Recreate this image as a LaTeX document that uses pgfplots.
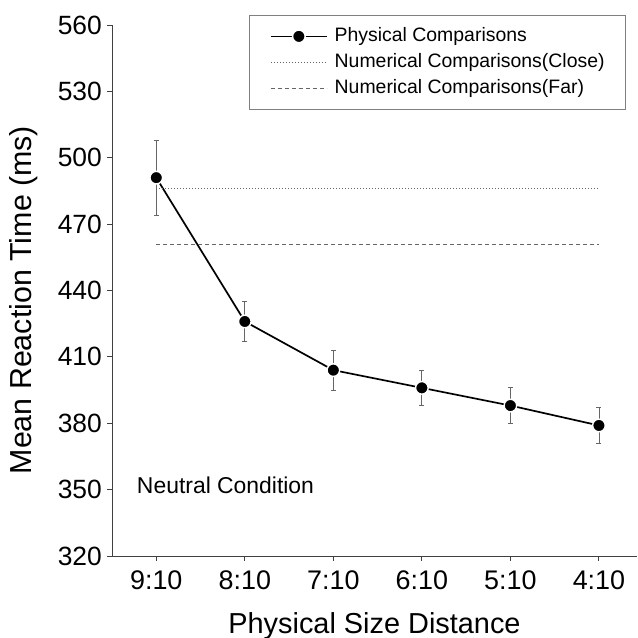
\documentclass[border=0pt]{standalone}
\usepackage{fontspec}
\setmainfont{Liberation Sans}
\usepackage{pgfplots}
\pgfplotsset{compat=1.18}
\begin{document}
\begin{tikzpicture}
\begin{axis}[
  scale only axis,
  width=525bp, height=531bp,
  xmin=-0.5, xmax=5.43,
  ymin=320, ymax=560,
  axis x line*=bottom, axis y line*=left,
  axis line style={black!75, line width=0.9bp},
  xtick={0,1,2,3,4,5},
  xticklabels={9:10,8:10,7:10,6:10,5:10,4:10},
  ytick={320,350,...,560},
  tick align=outside,
  major tick length=4.5bp,
  tick style={black!75, line width=0.9bp},
  /pgf/number format/assume math mode=true,
  yticklabel style={font=\fontsize{26.5}{30}\selectfont, inner sep=0pt, xshift=-5.5bp},
  xticklabel style={font=\fontsize{27}{32}\selectfont, inner sep=0pt, yshift=-10bp},
  xlabel={Physical Size Distance},
  ylabel={Mean Reaction Time (ms)},
  xlabel style={font=\fontsize{29}{34}\selectfont, at={(axis description cs:0.5,0)}, anchor=base, yshift=-77bp},
  ylabel style={font=\fontsize{30.5}{34}\selectfont, at={(axis description cs:-0.1524,0.482)}, anchor=base},
  clip=false,
  legend cell align=left,
  legend style={at={(axis description cs:1,1)}, anchor=north east,
    xshift=-11bp, yshift=10bp, draw=gray, line width=0.8bp,
    font=\fontsize{19.5}{23}\selectfont,
    inner xsep=21bp, inner ysep=12bp,
    nodes={inner sep=0pt, text height=14bp, text depth=4bp},
    row sep=8bp, column sep=7bp},
  legend image code/.code={%
    \draw[mark repeat=2,mark phase=2,#1] plot coordinates {(0bp,0bp) (28bp,0bp) (56bp,0bp)};},
]
\addplot[black, line width=1.7bp, mark=*,
  mark options={fill=black, draw=white, line width=1.4bp, mark size=6.3bp},
  error bars/.cd, y dir=both, y explicit,
  error bar style={black!60, line width=0.8bp},
  error mark options={rotate=90, mark size=2.5bp, black!60, line width=0.8bp}]
coordinates {
  (0,491) +- (0,17)
  (1,426) +- (0,9)
  (2,404) +- (0,9)
  (3,396) +- (0,8)
  (4,388) +- (0,8)
  (5,379) +- (0,8)
};
\addlegendentry{Physical Comparisons}
\addplot[black!60, line width=0.8bp, dash pattern=on 1bp off 2bp]
coordinates {(0,486) (5,486)};
\addlegendentry{Numerical Comparisons(Close)}
\addplot[black!60, line width=0.8bp, dash pattern=on 4bp off 3bp]
coordinates {(0,461) (5,461)};
\addlegendentry{Numerical Comparisons(Far)}
\node[anchor=west, font=\fontsize{23}{27}\selectfont, inner sep=0pt] at (axis cs:-0.22,352) {Neutral Condition};
\end{axis}
\pgfresetboundingbox
\path (current axis.south west) ++(-112bp,-82bp) rectangle ++(638bp,638bp);
\end{tikzpicture}
\end{document}
